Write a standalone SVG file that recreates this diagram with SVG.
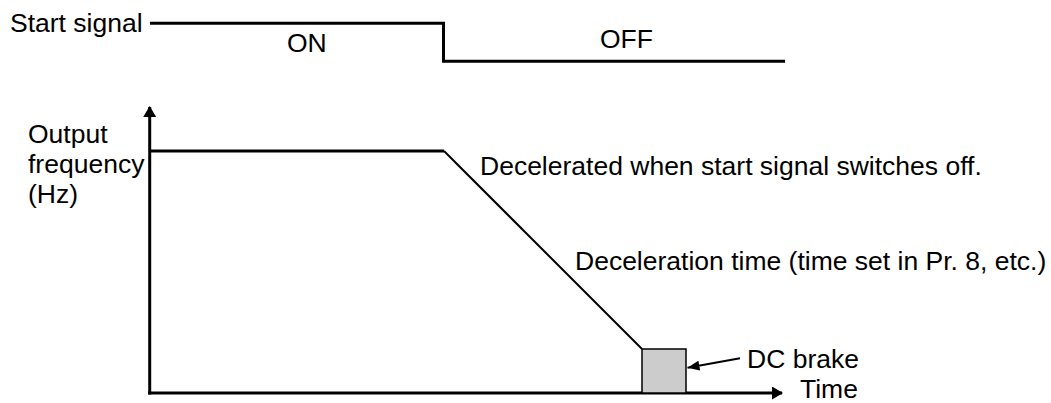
<svg xmlns="http://www.w3.org/2000/svg" width="1051" height="403" viewBox="0 0 1051 403">
<style>
text{font-family:"Liberation Sans",Arial,sans-serif;font-size:26.5px;fill:#000}
.thick{fill:none;stroke:#000;stroke-width:3}
.thin{fill:none;stroke:#000;stroke-width:2}
</style>
<defs>
<marker id="ah" viewBox="0 0 11 13" refX="10" refY="6.5" markerWidth="11" markerHeight="13" markerUnits="userSpaceOnUse" orient="auto">
<path d="M0,0 L11,6.5 L0,13 Z" fill="#000"/>
</marker>
<marker id="ah2" viewBox="0 0 12 10" refX="12" refY="5" markerWidth="12" markerHeight="10" markerUnits="userSpaceOnUse" orient="auto">
<path d="M0,0 L12,5 L0,10 Z" fill="#000"/>
</marker>
</defs>
<g id="start-signal">
<text x="10" y="32">Start signal</text>
<path class="thick" d="M150,23.3 H443.5 V61.3 H785"/>
<text x="287" y="51.5">ON</text>
<text x="600" y="47.5">OFF</text>
</g>
<g id="axes">
<line class="thick" x1="149.7" y1="394.5" x2="149.7" y2="107" marker-end="url(#ah)"/>
<line class="thick" x1="148.2" y1="393" x2="782" y2="393" marker-end="url(#ah)"/>
<text x="28" y="143">Output</text>
<text x="28" y="173">frequency</text>
<text x="28" y="203">(Hz)</text>
<text x="800" y="398">Time</text>
</g>
<g id="frequency-curve">
<path class="thick" d="M150,151 H444"/>
<path class="thin" d="M444,151 L642,349"/>
</g>
<g id="dc-brake">
<rect x="642" y="349" width="44" height="44" fill="#cccccc" stroke="#000" stroke-width="1.5"/>
<text x="747" y="368">DC brake</text>
</g>
<g id="labels">
<text x="480" y="175">Decelerated when start signal switches off.</text>
<text x="575" y="270">Deceleration time (time set in Pr. 8, etc.)</text>
</g>
<g id="connectors">
<line class="thin" x1="740" y1="358.3" x2="687.5" y2="367.7" marker-end="url(#ah2)"/>
</g>
</svg>
